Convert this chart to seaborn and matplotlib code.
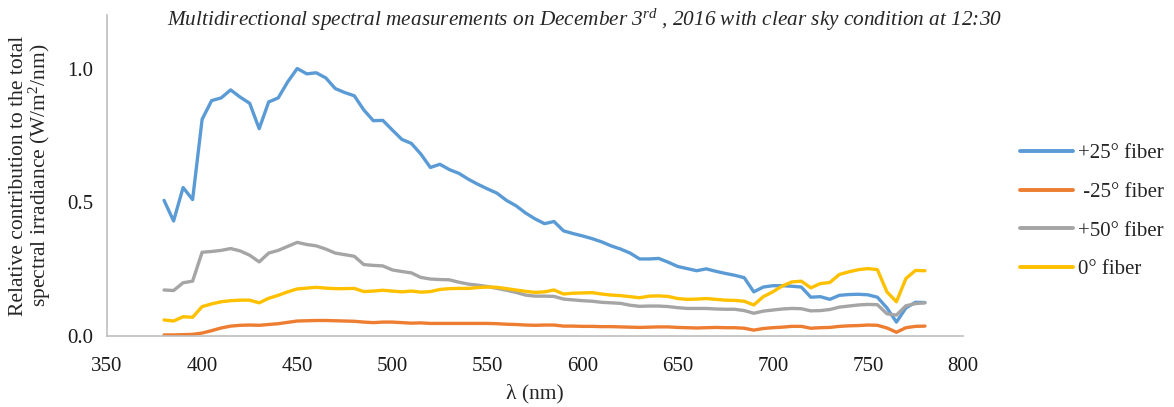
import matplotlib
matplotlib.use("Agg")
import matplotlib.pyplot as plt
import numpy as np
import pandas as pd
import seaborn as sns

# Wavelength grid (nm)
wavelength = list(range(380, 781, 5))

fiber_p25 = [0.507, 0.43, 0.555, 0.51, 0.81, 0.88, 0.89, 0.92, 0.893, 0.87,
             0.775, 0.875, 0.89, 0.95, 1.0, 0.98, 0.984, 0.965, 0.925, 0.91,
             0.898, 0.845, 0.805, 0.806, 0.77, 0.735, 0.72, 0.68, 0.63, 0.642,
             0.622, 0.608, 0.586, 0.567, 0.55, 0.534, 0.507, 0.487, 0.46, 0.438,
             0.42, 0.428, 0.393, 0.383, 0.374, 0.364, 0.352, 0.337, 0.325, 0.31,
             0.288, 0.288, 0.29, 0.276, 0.26, 0.252, 0.244, 0.251, 0.242, 0.234,
             0.227, 0.218, 0.165, 0.183, 0.188, 0.188, 0.186, 0.183, 0.145, 0.147,
             0.137, 0.152, 0.155, 0.156, 0.154, 0.145, 0.105, 0.052, 0.105, 0.126,
             0.125]

fiber_m25 = [0.004, 0.004, 0.005, 0.006, 0.011, 0.02, 0.03, 0.037, 0.04, 0.041,
             0.04, 0.043, 0.046, 0.051, 0.056, 0.057, 0.058, 0.058, 0.057, 0.056,
             0.055, 0.052, 0.05, 0.052, 0.052, 0.05, 0.048, 0.049, 0.047, 0.047,
             0.047, 0.047, 0.047, 0.047, 0.047, 0.046, 0.044, 0.043, 0.041, 0.04,
             0.041, 0.041, 0.037, 0.037, 0.036, 0.036, 0.035, 0.035, 0.034, 0.033,
             0.032, 0.033, 0.034, 0.034, 0.032, 0.031, 0.03, 0.031, 0.032, 0.031,
             0.031, 0.029, 0.022, 0.028, 0.031, 0.033, 0.036, 0.036, 0.029, 0.031,
             0.032, 0.036, 0.038, 0.039, 0.041, 0.04, 0.03, 0.014, 0.031, 0.036,
             0.037]

fiber_p50 = [0.172, 0.17, 0.199, 0.205, 0.313, 0.316, 0.32, 0.327, 0.318, 0.302,
             0.277, 0.31, 0.32, 0.335, 0.35, 0.342, 0.337, 0.325, 0.31, 0.304,
             0.298, 0.267, 0.264, 0.262, 0.247, 0.241, 0.236, 0.219, 0.213, 0.211,
             0.21, 0.201, 0.194, 0.19, 0.185, 0.178, 0.171, 0.163, 0.153, 0.149,
             0.149, 0.148, 0.138, 0.135, 0.132, 0.13, 0.126, 0.124, 0.122, 0.115,
             0.111, 0.112, 0.112, 0.11, 0.106, 0.103, 0.103, 0.103, 0.101, 0.1,
             0.1, 0.095, 0.085, 0.093, 0.097, 0.101, 0.103, 0.102, 0.094, 0.095,
             0.099, 0.108, 0.112, 0.116, 0.118, 0.117, 0.083, 0.078, 0.113, 0.121,
             0.124]

fiber_0 = [0.06, 0.056, 0.072, 0.07, 0.11, 0.12, 0.128, 0.132, 0.134, 0.134,
           0.124, 0.141, 0.152, 0.165, 0.176, 0.179, 0.182, 0.179, 0.177, 0.177,
           0.178, 0.166, 0.168, 0.171, 0.168, 0.165, 0.168, 0.164, 0.166, 0.174,
           0.177, 0.178, 0.178, 0.181, 0.183, 0.182, 0.177, 0.172, 0.167, 0.163,
           0.165, 0.172, 0.157, 0.16, 0.161, 0.162, 0.157, 0.153, 0.151, 0.147,
           0.143, 0.149, 0.15, 0.148, 0.14, 0.137, 0.138, 0.14, 0.137, 0.134,
           0.133, 0.13, 0.116, 0.147, 0.165, 0.187, 0.202, 0.205, 0.18, 0.196,
           0.2, 0.23, 0.24, 0.248, 0.252, 0.248, 0.165, 0.128, 0.215, 0.245,
           0.244]

series_names = ["+25° fiber", " -25° fiber", "+50° fiber", "0° fiber"]
series_colors = ["#5B9BD5", "#ED7D31", "#A5A5A5", "#FFC000"]
x_ticks = [350, 400, 450, 500, 550, 600, 650, 700, 750, 800]
y_ticks = [0.0, 0.5, 1.0]

frames = []
for name, vals in zip(series_names, [fiber_p25, fiber_m25, fiber_p50, fiber_0]):
    frames.append(pd.DataFrame({"wavelength": wavelength, "value": vals, "series": name}))
df = pd.concat(frames, ignore_index=True)

sns.set_style("white")
plt.rcParams["font.family"] = ["Liberation Serif", "DejaVu Serif"]
plt.rcParams["mathtext.fontset"] = "custom"
plt.rcParams["mathtext.rm"] = "Liberation Serif"
plt.rcParams["mathtext.it"] = "Liberation Serif:italic"

fig = plt.figure(figsize=(11.74, 4.07), dpi=100)
ax = fig.add_axes([107 / 1174, 71 / 407, (963 - 107) / 1174, (336 - 15) / 407])

sns.lineplot(data=df, x="wavelength", y="value", hue="series",
             palette=dict(zip(series_names, series_colors)),
             hue_order=series_names, linewidth=2.4, ax=ax, legend=False)
for line in ax.get_lines():
    line.set_solid_joinstyle("round")
    line.set_solid_capstyle("round")

ax.set_xlim(350, 800)
ax.set_ylim(0, 1.2)
ax.set_xticks(x_ticks)
ax.set_xticklabels([str(t) for t in x_ticks])
ax.set_yticks(y_ticks)
ax.set_yticklabels([f"{t:.1f}" for t in y_ticks])
ax.tick_params(axis="both", length=0, labelsize=15, colors="#1a1a1a")
ax.tick_params(axis="x", pad=15)
ax.tick_params(axis="y", pad=10)

for side in ["top", "right"]:
    ax.spines[side].set_visible(False)
for side in ["left", "bottom"]:
    ax.spines[side].set_color("#BFBFBF")
    ax.spines[side].set_linewidth(1.2)

ax.set_xlabel("λ (nm)", fontsize=15.5, labelpad=6)
ax.set_ylabel("Relative contribution to the total\nspectral irradiance (W/m$^{2}$/nm)",
              fontsize=15.5, labelpad=10, linespacing=0.95)

fig.text(0.498, 0.951, "Multidirectional spectral measurements on December 3$^{rd}$ , 2016 with clear sky condition at 12:30",
         ha="center", va="center", fontsize=15.3, style="italic")

handles = [plt.Line2D([0], [0], color=c, lw=2.8, solid_capstyle="round") for c in series_colors]
fig.legend(handles, series_names, loc="center left",
           bbox_to_anchor=(1020 / 1174, 1 - 211.5 / 407),
           frameon=False, fontsize=15, handlelength=2.55, handletextpad=0.25,
           labelspacing=0.92, borderpad=0, borderaxespad=0)

fig.savefig("out.png", dpi=100)
